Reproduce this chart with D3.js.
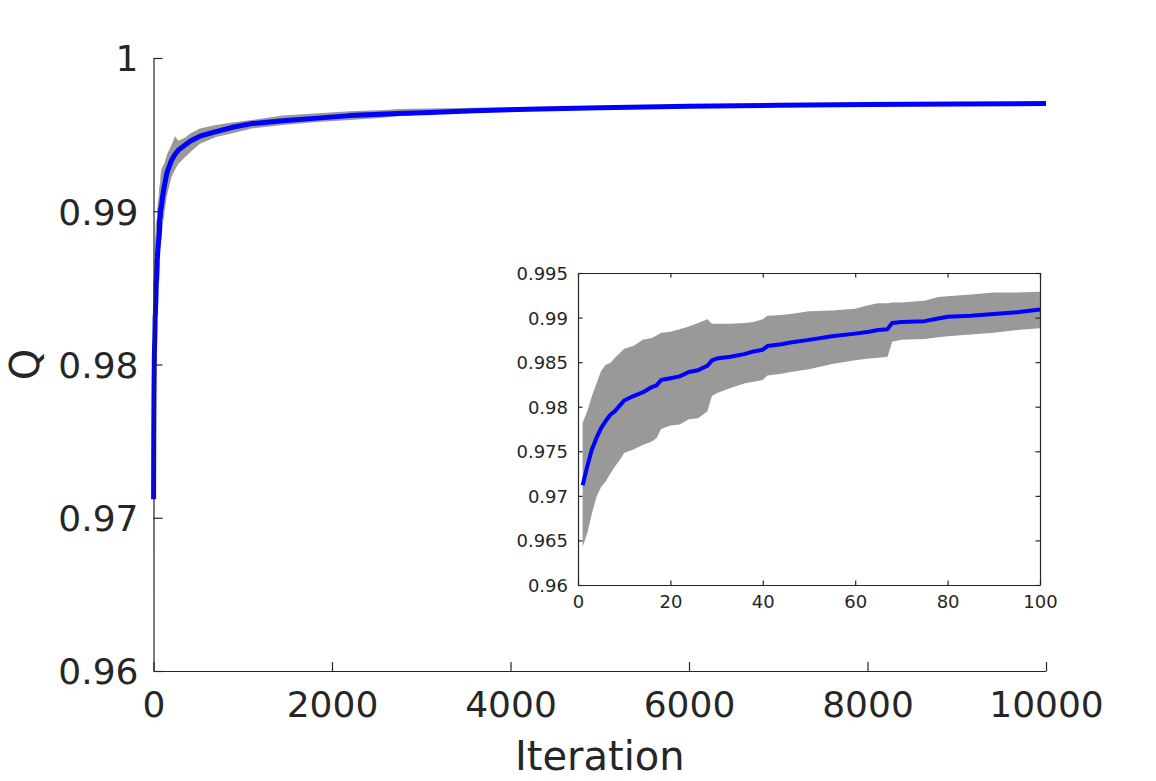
<!DOCTYPE html>
<html>
<head>
<meta charset="utf-8">
<script src="https://cdn.jsdelivr.net/npm/d3@7"></script>
<style>
  html, body { margin: 0; padding: 0; background: #fff; }
  svg { display: block; font-family: "DejaVu Sans", sans-serif; }
</style>
</head>
<body>
<div id="chart"></div>
<script>
// Iterations sampled (dense in the first 100, sparse afterwards)
const iterations = [1, 2, 3, 4, 5, 6, 7, 8, 9, 10, 12, 14, 16, 17, 18, 20, 22, 24, 26, 28, 29, 30,
    33, 36, 38, 40, 41, 44, 46, 50, 55, 60, 63, 65, 67, 68, 70, 75, 78, 80, 85, 90, 95, 100,
    120, 150, 200, 240, 280, 350, 420, 520, 700, 900, 1100, 1450, 1800, 2200, 2600, 2750,
    3100, 3600, 4200, 5000, 6000, 7000, 8000, 9000, 10000];

// mean Q
const qMean = [0.9712, 0.9733, 0.9752, 0.9765, 0.9776, 0.9784, 0.9791, 0.9795, 0.9801, 0.9807,
    0.9812, 0.9816, 0.9822, 0.9824, 0.9830, 0.9832, 0.9834, 0.9839, 0.9841, 0.9846, 0.9852, 0.9854,
    0.9856, 0.9859, 0.9862, 0.9864, 0.9868, 0.9870, 0.9872, 0.9875, 0.9879, 0.9882, 0.9884, 0.9886,
    0.9887, 0.9894, 0.9895, 0.9896, 0.9899, 0.9901, 0.9902, 0.9904, 0.9906, 0.9909,
    0.9916, 0.9925, 0.9933, 0.9937, 0.9940, 0.9943, 0.9946, 0.9949, 0.9952, 0.9955, 0.99572,
    0.9959, 0.99606, 0.99624, 0.99635, 0.99638, 0.99645, 0.99655, 0.99666, 0.99675, 0.99685,
    0.99691, 0.99697, 0.99700, 0.99703];

// upper edge of the shaded band
const qUpper = [0.9782, 0.9795, 0.9812, 0.9826, 0.9840, 0.9847, 0.9849, 0.9855, 0.9860, 0.9865,
    0.9868, 0.9875, 0.9877, 0.9880, 0.9883, 0.9884, 0.9887, 0.9890, 0.9894, 0.9898, 0.9893, 0.9893,
    0.9893, 0.9894, 0.9895, 0.9898, 0.9902, 0.9903, 0.9904, 0.9907, 0.9908, 0.9910, 0.9914, 0.9916,
    0.9916, 0.9917, 0.9917, 0.9919, 0.9923, 0.9924, 0.9926, 0.9928, 0.9928, 0.9929,
    0.9931, 0.9937, 0.9943, 0.9949, 0.9946, 0.9948, 0.9951, 0.9954, 0.99563, 0.9958, 0.99595,
    0.99625, 0.99638, 0.99652, 0.99660, 0.99668, 0.99670, 0.99676, 0.99681, 0.99686, 0.99693,
    0.99698, 0.99703, 0.99706, 0.99708];

// lower edge of the shaded band
const qLower = [0.9643, 0.9658, 0.9680, 0.9699, 0.9710, 0.9716, 0.9725, 0.9733, 0.9740, 0.9748,
    0.9752, 0.9757, 0.9761, 0.9765, 0.9775, 0.9779, 0.9780, 0.9786, 0.9787, 0.9795, 0.9812, 0.9815,
    0.9821, 0.9826, 0.9828, 0.9830, 0.9835, 0.9837, 0.9839, 0.9842, 0.9848, 0.9852, 0.9854, 0.9855,
    0.9856, 0.9873, 0.9875, 0.9876, 0.9878, 0.9879, 0.9881, 0.9883, 0.9886, 0.9888,
    0.9898, 0.9910, 0.9922, 0.9927, 0.9931, 0.9935, 0.9939, 0.9944, 0.99485, 0.9951, 0.9954,
    0.99562, 0.99580, 0.99595, 0.99612, 0.99622, 0.99633, 0.99644, 0.99655, 0.99665, 0.99677,
    0.99684, 0.99691, 0.99695, 0.99698];

const mainXTicks = [0, 2000, 4000, 6000, 8000, 10000];
const mainYTicks = [0.96, 0.97, 0.98, 0.99, 1];
const insetXTicks = [0, 20, 40, 60, 80, 100];
const insetYTicks = [0.96, 0.965, 0.97, 0.975, 0.98, 0.985, 0.99, 0.995];

const W = 1156, H = 781;
const ink = "#262626";
const bandColor = "#999999";
const lineColor = "#0000ff";

const rows = iterations.map((it, i) => ({ it, mean: qMean[i], hi: qUpper[i], lo: qLower[i] }));

const svg = d3.select("#chart").append("svg")
    .attr("width", W)
    .attr("height", H);

// ---- main axes ----
const x = d3.scaleLinear().domain([0, 10000]).range([153.5, 1046]);
const y = d3.scaleLinear().domain([0.96, 1]).range([671, 58]);

const main = svg.append("g");

main.append("path")
    .datum(rows)
    .attr("fill", bandColor)
    .attr("d", d3.area().x(d => x(d.it)).y0(d => y(d.lo)).y1(d => y(d.hi)));

main.append("path")
    .datum(rows)
    .attr("fill", "none")
    .attr("stroke", lineColor)
    .attr("stroke-width", 5)
    .attr("stroke-linejoin", "round")
    .attr("d", d3.line().x(d => x(d.it)).y(d => y(d.mean)));

const mainX = main.append("g")
    .attr("transform", `translate(0,${y(0.96)})`)
    .call(d3.axisBottom(x).tickValues(mainXTicks).tickFormat(d3.format("d"))
        .tickSizeInner(-9).tickSizeOuter(0).tickPadding(20));
const mainY = main.append("g")
    .attr("transform", `translate(${x(0)},0)`)
    .call(d3.axisLeft(y).tickValues(mainYTicks).tickFormat(d => d === 1 ? "1" : d3.format(".2f")(d))
        .tickSizeInner(-9).tickSizeOuter(0).tickPadding(15));

[mainX, mainY].forEach(g => {
    g.select(".domain").attr("stroke", ink).attr("stroke-width", 1.2);
    g.selectAll(".tick line").attr("stroke", ink).attr("stroke-width", 1.2);
    g.selectAll(".tick text").attr("fill", ink).style("font-size", "36px")
        .style("font-family", "'DejaVu Sans', sans-serif");
});
mainX.selectAll(".tick text").attr("dy", "0.71em");
mainY.selectAll(".tick text").attr("dy", "0.36em");

svg.append("text")
    .attr("x", (x(0) + x(10000)) / 2)
    .attr("y", 770)
    .attr("text-anchor", "middle")
    .attr("fill", ink)
    .style("font-size", "40px")
    .text("Iteration");

svg.append("text")
    .attr("transform", `translate(39,${y(0.98)}) rotate(-90)`)
    .attr("text-anchor", "middle")
    .attr("fill", ink)
    .style("font-size", "40px")
    .text("Q");

// ---- inset ----
const ix = d3.scaleLinear().domain([0, 100]).range([578, 1040]);
const iy = d3.scaleLinear().domain([0.96, 0.995]).range([585, 273]);
const insetRows = rows.filter(d => d.it <= 100);

const inset = svg.append("g");

inset.append("rect")
    .attr("x", ix(0)).attr("y", iy(0.995))
    .attr("width", ix(100) - ix(0)).attr("height", iy(0.96) - iy(0.995))
    .attr("fill", "#fff");

inset.append("path")
    .datum(insetRows)
    .attr("fill", bandColor)
    .attr("d", d3.area().x(d => ix(d.it)).y0(d => iy(d.lo)).y1(d => iy(d.hi)));

inset.append("path")
    .datum(insetRows)
    .attr("fill", "none")
    .attr("stroke", lineColor)
    .attr("stroke-width", 4)
    .attr("stroke-linejoin", "round")
    .attr("d", d3.line().x(d => ix(d.it)).y(d => iy(d.mean)));

const tick = 4.5;
const insetAxes = [
    inset.append("g").attr("transform", `translate(0,${iy(0.96)})`)
        .call(d3.axisBottom(ix).tickValues(insetXTicks).tickSizeInner(-tick).tickSizeOuter(0).tickPadding(10)),
    inset.append("g").attr("transform", `translate(0,${iy(0.995)})`)
        .call(d3.axisTop(ix).tickValues(insetXTicks).tickSizeInner(-tick).tickSizeOuter(0).tickFormat("")),
    inset.append("g").attr("transform", `translate(${ix(0)},0)`)
        .call(d3.axisLeft(iy).tickValues(insetYTicks).tickFormat(d => d3.format(".3~f")(d))
            .tickSizeInner(-tick).tickSizeOuter(0).tickPadding(10)),
    inset.append("g").attr("transform", `translate(${ix(100)},0)`)
        .call(d3.axisRight(iy).tickValues(insetYTicks).tickSizeInner(-tick).tickSizeOuter(0).tickFormat(""))
];
insetAxes.forEach(g => {
    g.select(".domain").attr("stroke", ink).attr("stroke-width", 1.2);
    g.selectAll(".tick line").attr("stroke", ink).attr("stroke-width", 1.2);
    g.selectAll(".tick text").attr("fill", ink).style("font-size", "18px")
        .style("font-family", "'DejaVu Sans', sans-serif");
});
insetAxes[0].selectAll(".tick text").attr("dy", "0.71em");
insetAxes[2].selectAll(".tick text").attr("dy", "0.36em");
</script>
</body>
</html>
